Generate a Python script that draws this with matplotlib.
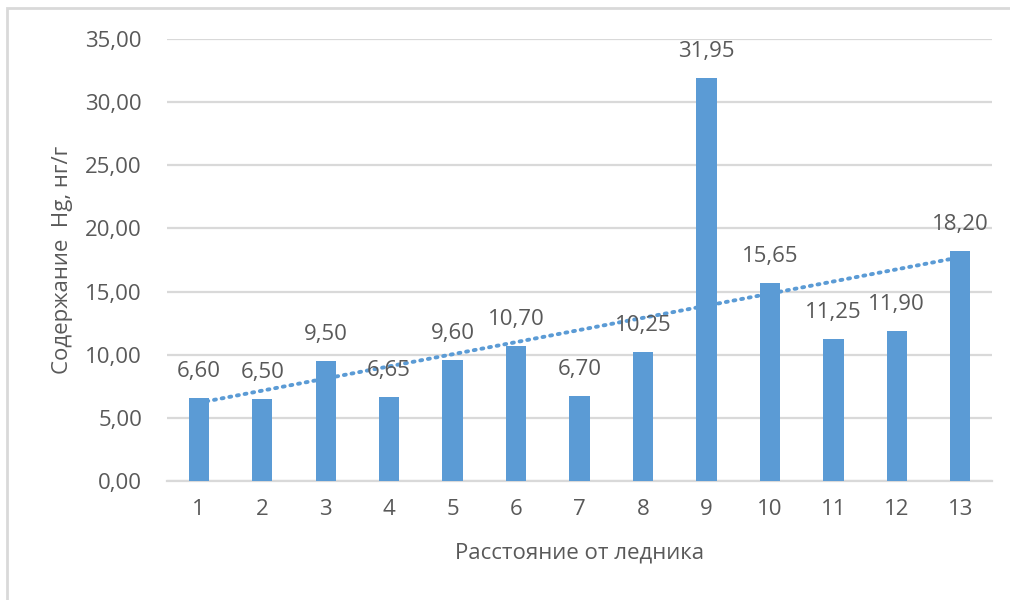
import numpy as np
import matplotlib
matplotlib.use("Agg")
import matplotlib.pyplot as plt
from matplotlib.patches import Rectangle

# Mercury content by distance from the glacier
categories = ["1", "2", "3", "4", "5", "6", "7", "8", "9", "10", "11", "12", "13"]
values = [6.60, 6.50, 9.50, 6.65, 9.60, 10.70, 6.70, 10.25, 31.95, 15.65, 11.25, 11.90, 18.20]
y_ticks = [0, 5, 10, 15, 20, 25, 30, 35]

x_label = "Расстояние от ледника"
y_label = "Содержание  Hg, нг/г"

BAR = "#5B9BD5"
TEXT = "#595959"
GRID = "#D9D9D9"
FS = 16

plt.rcParams["font.family"] = ["Open Sans", "DejaVu Sans"]

fig = plt.figure(figsize=(10.1, 6.0), dpi=100)
ax = fig.add_axes([167 / 1010, 1 - 481 / 600, (992 - 167) / 1010, (481 - 39) / 600])

x = np.arange(1, len(values) + 1)
ax.bar(x, values, width=0.32, color=BAR, zorder=3)

# linear trendline
k, b = np.polyfit(x, values, 1)
xt = np.array([x[0], x[-1]], dtype=float)
ax.plot(xt, k * xt + b, color=BAR, lw=2.8, linestyle=(0, (0.5, 1.5)),
        dash_capstyle="round", zorder=4)

def fmt(v):
    return f"{v:.2f}".replace(".", ",")

for xi, v in zip(x, values):
    ax.annotate(fmt(v), (xi, v), xytext=(0, 19), textcoords="offset points",
                ha="center", va="center", fontsize=FS, color=TEXT, zorder=5,
                annotation_clip=False)

ax.set_xlim(0.5, len(values) + 0.5)
ax.set_ylim(0, 35)
ax.set_yticks(y_ticks)
ax.set_yticklabels([fmt(t) for t in y_ticks])
ax.set_xticks(x)
ax.set_xticklabels(categories)
ax.tick_params(length=0, labelsize=FS, labelcolor=TEXT)
ax.tick_params(axis="y", pad=18)
ax.tick_params(axis="x", pad=13)
ax.grid(axis="y", color=GRID, lw=1.6, zorder=0)
for s in ["top", "right", "left"]:
    ax.spines[s].set_visible(False)
ax.spines["bottom"].set_color(GRID)
ax.spines["bottom"].set_linewidth(1.6)

ax.set_xlabel(x_label, fontsize=FS, color=TEXT, labelpad=16)
ax.set_ylabel(y_label, fontsize=FS, color=TEXT, labelpad=9)

# chart frame
fig.patches.append(Rectangle((7 / 1010, -0.1), 1.1, 1.1 - 8 / 600,
                             transform=fig.transFigure, fill=False,
                             edgecolor=GRID, lw=2, zorder=0))

fig.savefig("out.png", dpi=100, facecolor="white")
